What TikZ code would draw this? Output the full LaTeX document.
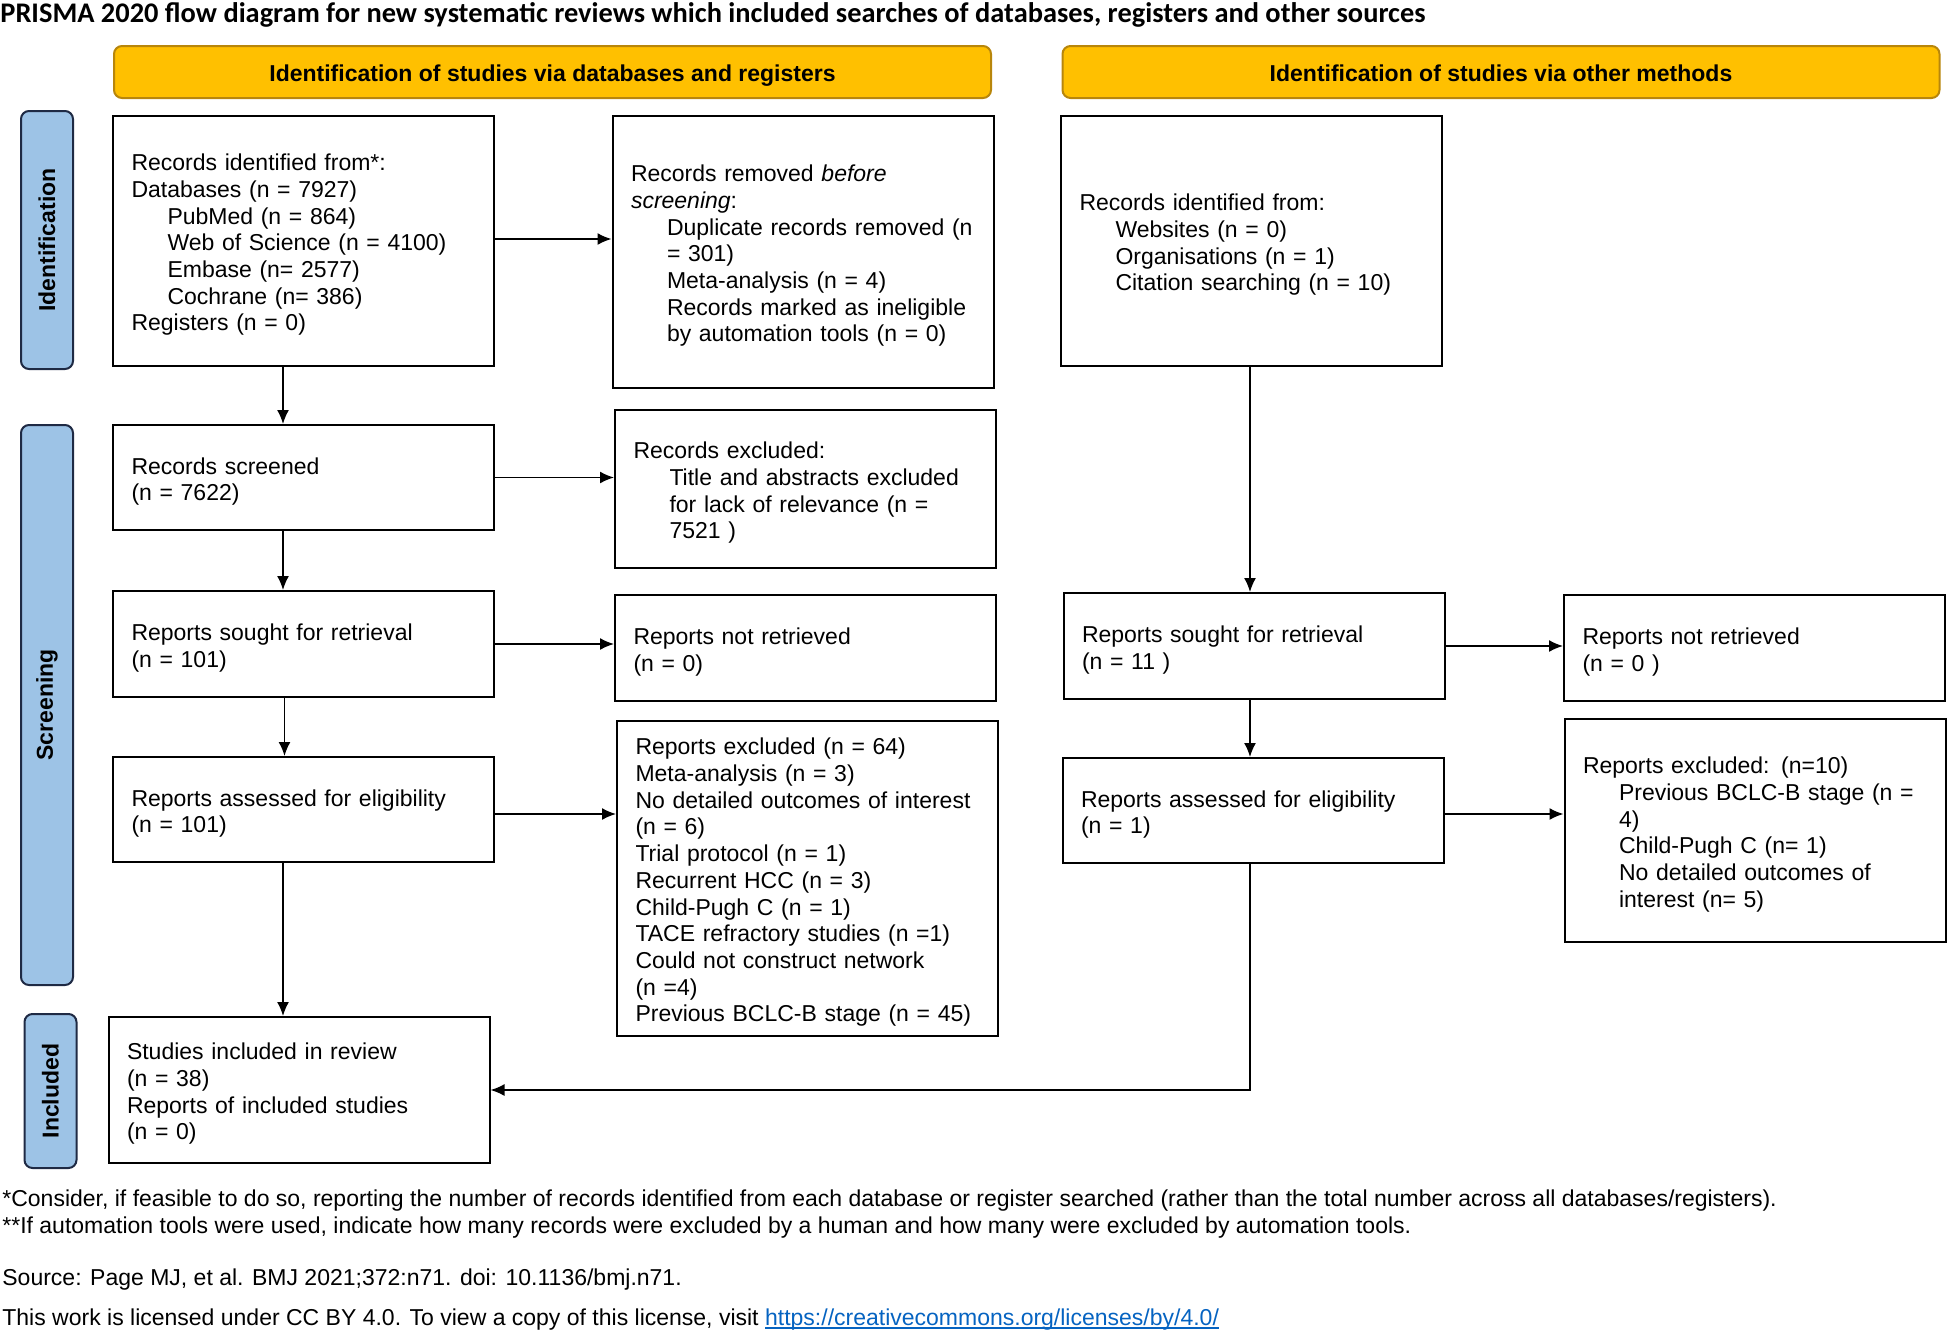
\documentclass[tikz,border=0pt]{standalone}
\usepackage{fontspec}
\setmainfont{Liberation Sans}
\newfontfamily\titlefont{Carlito}
\usetikzlibrary{arrows.meta,calc}
\definecolor{hdrfill}{HTML}{FFC000}
\definecolor{hdrdraw}{HTML}{B8860B}
\definecolor{sidefill}{HTML}{9DC3E6}
\definecolor{sidedraw}{HTML}{1F2A44}
\definecolor{linkblue}{HTML}{0563C1}
\newcommand{\bodyfs}{\fontsize{11.5pt}{13.35pt}\selectfont}
\newcommand{\ind}{\hspace*{18pt}}
\newcommand{\myul}[1]{\setbox0\hbox{#1}\rlap{\rule[-1.8pt]{\wd0}{0.6pt}}\box0}
\tikzset{
  box/.style={draw=black, line width=1pt, inner xsep=9.25pt, inner ysep=0pt,
    align=left, font=\bodyfs, minimum width=190.5pt, text width=172pt,
    execute at begin node={\rule{0pt}{12.3pt}},
    execute at end node={\rule[-2.44pt]{0pt}{2.44pt}}},
  hdr/.style={draw=hdrdraw, fill=hdrfill, line width=1pt, rounded corners=4pt,
    minimum width=438.5pt, minimum height=26pt, font=\bodyfs\bfseries,
    text height=12.3pt, text depth=2.44pt, inner ysep=0pt},
  side/.style={draw=sidedraw, fill=sidefill, line width=1pt, rounded corners=4pt,
    rotate=90, minimum height=26pt, font=\bodyfs\bfseries},
  arr/.style={-{Latex[length=7pt,width=6pt]}, line width=0.8pt},
  foot/.style={anchor=base west, inner sep=0pt, font=\bodyfs}
}
\begin{document}
\begin{tikzpicture}[x=0.5pt,y=-0.5pt]
\useasboundingbox (0,0) rectangle (1948,1333);
% title
\node[anchor=base west, inner sep=0pt, font=\titlefont\bfseries\fontsize{14.2pt}{16pt}\selectfont] (title) at (0,22)
  {PRISMA 2020 flow diagram for new systematic reviews which included searches of databases, registers and other sources};
% headers
\node[hdr] (H1) at (552.5,72) {Identification of studies via databases and registers};
\node[hdr] (H2) at (1501,72) {Identification of studies via other methods};
% side labels
\node[side, minimum width=129pt] (S1) at (47,240) {Identification};
\node[side, minimum width=280pt] (S2) at (47,705) {Screening};
\node[side, minimum width=77pt] (S3) at (50.5,1091) {Included};
% left column
\node[box, minimum height=125pt] (B1) at (303.5,241) {Records identified from*:\\
Databases (n = 7927)\\
\ind PubMed (n = 864)\\
\ind Web of Science (n = 4100)\\
\ind Embase (n= 2577)\\
\ind Cochrane (n= 386)\\
Registers (n = 0)};
\node[box, minimum height=136pt] (B2) at (803,252) {Records removed \textit{before}\\
\textit{screening}:\\
\ind Duplicate records removed (n\\
\ind = 301)\\
\ind Meta-analysis (n = 4)\\
\ind Records marked as ineligible\\
\ind by automation tools (n = 0)};
\node[box, minimum height=52.5pt] (B3) at (303.5,477.5) {Records screened\\(n = 7622)};
\node[box, minimum height=79pt] (B4) at (805.5,489) {Records excluded:\\
\ind Title and abstracts excluded\\
\ind for lack of relevance (n =\\
\ind 7521 )};
\node[box, minimum height=53pt] (B5) at (303.5,644) {Reports sought for retrieval\\(n = 101)};
\node[box, minimum height=53pt] (B6) at (805.5,648) {Reports not retrieved\\(n = 0)};
\node[box, minimum height=52.5pt] (B7) at (303.5,809.5) {Reports assessed for eligibility\\(n = 101)};
\node[box, minimum height=157.5pt] (B8) at (807.5,878.5) {Reports excluded (n = 64)\\
Meta-analysis (n = 3)\\
No detailed outcomes of interest\\
(n = 6)\\
Trial protocol (n = 1)\\
Recurrent HCC (n = 3)\\
Child-Pugh C (n = 1)\\
TACE refractory studies (n =1)\\
Could not construct network\\
(n =4)\\
Previous BCLC-B stage (n = 45)};
\node[box, minimum height=73pt] (B9) at (299,1090) {Studies included in review\\
(n = 38)\\
Reports of included studies\\
(n = 0)};
% right column
\node[box, minimum height=125pt] (R1) at (1251.5,241) {Records identified from:\\
\ind Websites (n = 0)\\
\ind Organisations (n = 1)\\
\ind Citation searching (n = 10)};
\node[box, minimum height=53pt] (R2) at (1254,646) {Reports sought for retrieval\\(n = 11 )};
\node[box, minimum height=53pt] (R3) at (1754.5,648) {Reports not retrieved\\(n = 0 )};
\node[box, minimum height=52.5pt] (R4) at (1253,810.5) {Reports assessed for eligibility\\(n = 1)};
\node[box, minimum height=111.5pt] (R5) at (1755,830.5) {Reports excluded: (n=10)\\
\ind Previous BCLC-B stage (n =\\
\ind 4)\\
\ind Child-Pugh C (n= 1)\\
\ind No detailed outcomes of\\
\ind interest (n= 5)};
% connectors
\coordinate (lx) at (283,0);
\draw[arr] (B1.east |- 0,239) -- (B2.west |- 0,239);
\draw[arr] (lx |- B1.south) -- (lx |- B3.north);
\draw[arr] (B3.east) -- (B3.east -| B4.west);
\draw[arr] (lx |- B3.south) -- (lx |- B5.north);
\draw[arr] (B5.east) -- (B5.east -| B6.west);
\draw[arr] ([xshift=0.75pt]lx |- B5.south) -- ([xshift=0.75pt]lx |- B7.north);
\draw[arr] (B7.east |- 0,814) -- (B8.west |- 0,814);
\draw[arr] (lx |- B7.south) -- (lx |- B9.north);
\coordinate (rx) at (1250,0);
\draw[arr] (rx |- R1.south) -- (rx |- R2.north);
\draw[arr] (R2.east) -- (R2.east -| R3.west);
\draw[arr] (rx |- R2.south) -- (rx |- R4.north);
\draw[arr] (R4.east |- 0,814) -- (R5.west |- 0,814);
\draw[arr] (rx |- R4.south) -- (rx |- B9.east) -- (B9.east);
% footnotes
\node[foot] (F1) at (2,1206) {*Consider, if feasible to do so, reporting the number of records identified from each database or register searched (rather than the total number across all databases/registers).};
\node[foot] (F2) at (2,1233) {**If automation tools were used, indicate how many records were excluded by a human and how many were excluded by automation tools.};
\node[foot] (F3) at (2,1285) {Source: Page MJ, et al. BMJ 2021;372:n71. doi: 10.1136/bmj.n71.};
\node[foot] (F4) at (2,1325) {This work is licensed under CC BY 4.0. To view a copy of this license, visit {\color{linkblue}\myul{https://creativecommons.org/licenses/by/4.0/}}};
\end{tikzpicture}
\end{document}
